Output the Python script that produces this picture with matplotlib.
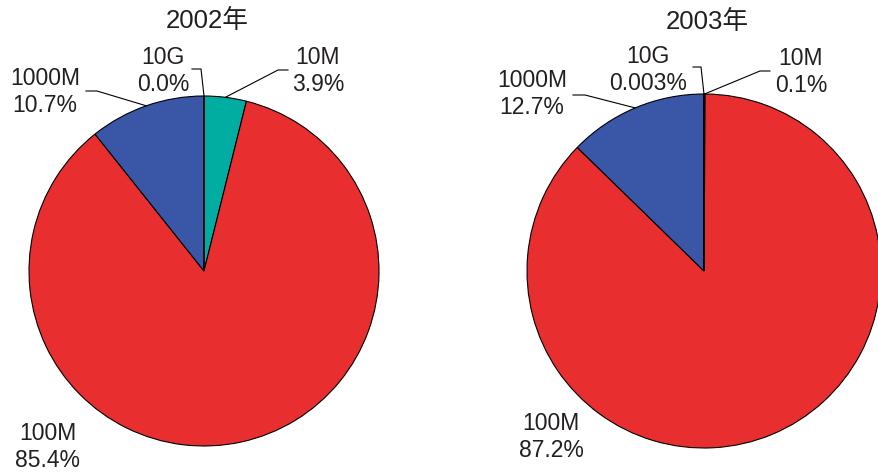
import numpy as np
import matplotlib
matplotlib.use("Agg")
import matplotlib.pyplot as plt

# data
labels = ["10M", "100M", "1000M", "10G"]
share_2002 = [3.9, 85.4, 10.7, 0.0]
share_2003 = [0.1, 87.2, 12.7, 0.003]
pct_2002 = ["3.9%", "85.4%", "10.7%", "0.0%"]
pct_2003 = ["0.1%", "87.2%", "12.7%", "0.003%"]
titles = ["2002年", "2003年"]

colors = ["#00ADA0", "#E92E2F", "#3A56A6", "#6A6A6A"]
txt_color = "#231F20"
H = 474

plt.rcParams['font.family'] = ['Liberation Sans', 'Noto Sans CJK SC', 'DejaVu Sans']

fig = plt.figure(figsize=(8.79, 4.74), dpi=100)
ax = fig.add_axes([0, 0, 1, 1])

# layout (pixel coords, y from top): center, radius, label centers, leader elbows
layouts = [
    dict(center=(204, 271), r=175, title=(207, 21),
         text=[(318, 71), (48, 447), (45, 92), (163, 71)],
         elbow=[[(278, 70), (288, 70)], None, [(97, 91), (86, 91)], [(201, 69), (192, 69)]]),
    dict(center=(704, 271), r=177, title=(707, 22),
         text=[(801, 72), (551, 437), (532, 94), (648, 70)],
         elbow=[[(760, 71), (770, 71)], None, [(585, 95), (573, 95)], [(701, 67), (693, 67)]]),
]

for vals, pcts, title, lay in zip([share_2002, share_2003], [pct_2002, pct_2003], titles, layouts):
    cx, cy = lay["center"]
    r = lay["r"]
    ax.pie(vals, colors=colors, startangle=90, counterclock=False,
           center=(cx, H - cy), radius=r, normalize=True,
           wedgeprops=dict(edgecolor="black", linewidth=0.8))
    ax.text(lay["title"][0], H - lay["title"][1], title, ha="center", va="center",
            fontsize=18.5, color=txt_color)
    total = sum(vals)
    cum = np.cumsum([0] + vals[:-1])
    for i, (lab, p) in enumerate(zip(labels, pcts)):
        tx, ty = lay["text"][i]
        ax.text(tx, H - ty, lab + "\n" + p, ha="center", va="center",
                fontsize=16.5, color=txt_color, linespacing=1.22)
        if lay["elbow"][i] is not None:
            mid = (cum[i] + vals[i] / 2) / total * 2 * np.pi
            px = cx + r * np.sin(mid)
            py = cy - r * np.cos(mid)
            pts = [(px, py)] + lay["elbow"][i]
            xs = [q[0] for q in pts]
            ys = [H - q[1] for q in pts]
            ax.plot(xs, ys, color="black", linewidth=0.8)

# pie() resets the limits, so set them afterwards
ax.set_xlim(0, 879)
ax.set_ylim(0, H)
ax.set_aspect('equal')
ax.axis('off')

fig.savefig("out.png", dpi=100)
